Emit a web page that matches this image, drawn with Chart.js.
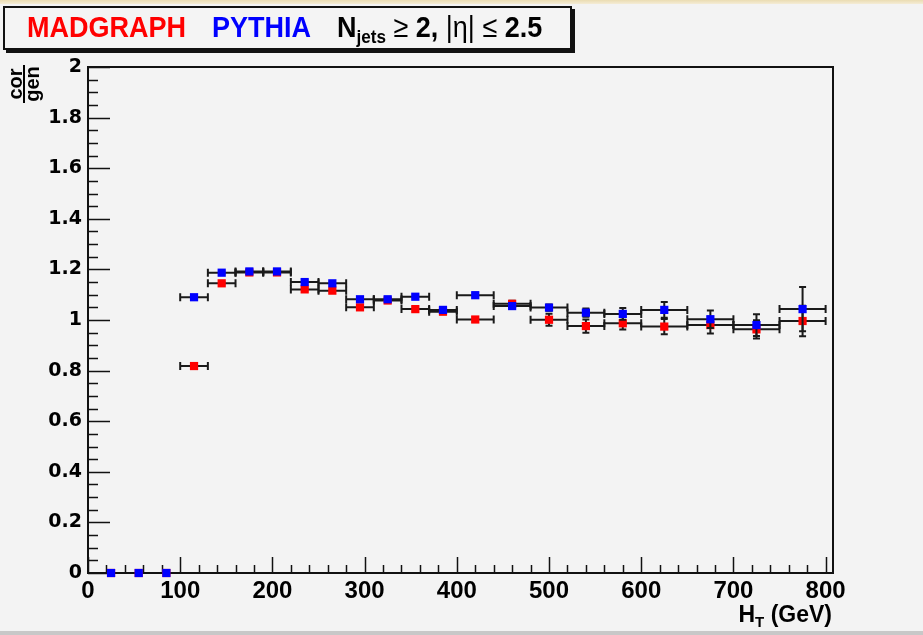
<!DOCTYPE html>
<html><head><meta charset="utf-8">
<script src="https://cdn.jsdelivr.net/npm/chart.js@4.4.1/dist/chart.umd.min.js"></script>
<style>
html,body{margin:0;padding:0;background:#f3f3f3;}
#wrap{position:relative;width:923px;height:635px;overflow:hidden;background:#f3f3f3;}
#c{position:absolute;left:0;top:0;}
#topstrip{position:absolute;left:0;top:0;width:923px;height:4px;background:linear-gradient(#eadcb2,#f4ecd6);}
#botline{position:absolute;left:0;top:631px;width:923px;height:4px;background:#c8c8c8;}
#legend{position:absolute;left:3px;top:6px;width:565px;height:40px;border:2px solid #111;box-shadow:3px 3px 0 #111;background:#f4f4f4;}
.lt{position:absolute;font-family:'Liberation Sans',Arial,sans-serif;font-weight:bold;font-size:30px;line-height:30px;white-space:nowrap;transform:scaleX(0.9);transform-origin:0 0;}
.lt sub{font-size:19px;vertical-align:-6px;line-height:0;}
.lt .op{font-weight:normal;}
#ytitle{position:absolute;left:5px;top:68px;width:38px;height:32px;transform:rotate(-90deg);font-family:'Liberation Sans',Arial,sans-serif;font-weight:bold;font-size:20px;text-align:center;}
#ytitle div{line-height:15px;height:15px;}
#ytitle .num{border-bottom:2px solid #000;}
#xtitle{position:absolute;right:91px;top:603px;font-family:'Liberation Sans',Arial,sans-serif;font-weight:bold;font-size:23px;line-height:23px;white-space:nowrap;}
#xtitle sub{font-size:15px;vertical-align:-5px;line-height:0;}
</style>
</head><body>
<div id="wrap">
<canvas id="c" width="923" height="635"></canvas>
<div id="topstrip"></div>
<div id="botline"></div>
<div id="legend"></div>
<div class="lt" style="left:27px;top:12px;color:#ff0000;">MADGRAPH</div>
<div class="lt" style="left:212px;top:12px;color:#0000ff;">PYTHIA</div>
<div class="lt" style="left:337px;top:12px;color:#000;">N<sub>jets</sub> <span class="op">≥</span> 2, <span class="op">|η|</span> <span class="op">≤</span> 2.5</div>
<div id="ytitle"><div class="num">cor</div><div>gen</div></div>
<div id="xtitle">H<sub>T</sub> (GeV)</div>
</div>
<script>
// ---- data ----
const binLow    = [10, 40, 70, 100, 130, 160, 190, 220, 250, 280, 310, 340, 370, 400, 440, 480, 520, 560, 600, 650, 700, 750];
const binHigh   = [40, 70, 100, 130, 160, 190, 220, 250, 280, 310, 340, 370, 400, 440, 480, 520, 560, 600, 650, 700, 750, 800];
const binCenter = [25, 55, 85, 115, 145, 175, 205, 235, 265, 295, 325, 355, 385, 420, 460, 500, 540, 580, 625, 675, 725, 775];
const madgraph    = [0, 0, 0, 0.818, 1.145, 1.188, 1.188, 1.121, 1.116, 1.050, 1.077, 1.043, 1.033, 1.002, 1.064, 1.001, 0.976, 0.987, 0.974, 0.980, 0.963, 0.996];
const madgraphErr = [0, 0, 0, 0.006, 0.006, 0.006, 0.006, 0.007, 0.007, 0.008, 0.008, 0.009, 0.010, 0.010, 0.012, 0.024, 0.026, 0.025, 0.030, 0.033, 0.036, 0.060];
const pythia      = [0, 0, 0, 1.090, 1.187, 1.192, 1.192, 1.150, 1.145, 1.082, 1.082, 1.092, 1.040, 1.098, 1.055, 1.049, 1.029, 1.024, 1.040, 1.003, 0.980, 1.043];
const pythiaErr   = [0, 0, 0, 0.006, 0.006, 0.006, 0.006, 0.007, 0.007, 0.008, 0.008, 0.009, 0.010, 0.010, 0.012, 0.012, 0.016, 0.023, 0.031, 0.035, 0.043, 0.087];
const xTickValues = [0, 100, 200, 300, 400, 500, 600, 700, 800];
const xTickLabels = ['0', '100', '200', '300', '400', '500', '600', '700', '800'];
const yTickValues = [0, 0.2, 0.4, 0.6, 0.8, 1, 1.2, 1.4, 1.6, 1.8, 2];
const yTickLabels = ['0', '0.2', '0.4', '0.6', '0.8', '1', '1.2', '1.4', '1.6', '1.8', '2'];

const series = [
  {label: 'MADGRAPH', values: madgraph, errs: madgraphErr, color: '#ff0000', order: 1},
  {label: 'PYTHIA', values: pythia, errs: pythiaErr, color: '#0000ff', order: 0}
];

const errorBars = {
  id: 'errorBars',
  beforeDatasetDraw(chart, args) {
    const ds = chart.data.datasets[args.index];
    const xs = chart.scales.x, ys = chart.scales.y;
    const ctx = chart.ctx;
    ctx.save();
    ctx.strokeStyle = '#1a1a1a';
    ctx.lineWidth = 2;
    ds.data.forEach((p, i) => {
      if (p.y === 0) return;
      const px1 = xs.getPixelForValue(ds.lo[i]), px2 = xs.getPixelForValue(ds.hi[i]);
      const py = ys.getPixelForValue(p.y), px = xs.getPixelForValue(p.x);
      const pyA = ys.getPixelForValue(p.y + ds.err[i]), pyB = ys.getPixelForValue(p.y - ds.err[i]);
      ctx.beginPath();
      ctx.moveTo(px1, py); ctx.lineTo(px2, py);
      ctx.moveTo(px1, py - 4); ctx.lineTo(px1, py + 4);
      ctx.moveTo(px2, py - 4); ctx.lineTo(px2, py + 4);
      ctx.moveTo(px, pyA); ctx.lineTo(px, pyB);
      ctx.moveTo(px - 3.5, pyA); ctx.lineTo(px + 3.5, pyA);
      ctx.moveTo(px - 3.5, pyB); ctx.lineTo(px + 3.5, pyB);
      ctx.stroke();
    });
    ctx.restore();
  }
};

const frameTicks = {
  id: 'frameTicks',
  beforeDatasetsDraw(chart) {
    const {ctx, chartArea: a} = chart;
    const xs = chart.scales.x, ys = chart.scales.y;
    ctx.save();
    ctx.strokeStyle = '#111';
    ctx.lineWidth = 1.5;
    ctx.beginPath();
    for (let k = 0; k <= 40; k++) {
      const py = Math.round(ys.getPixelForValue(k * 0.05)) + 0.5;
      const len = (k % 4 === 0) ? 22 : 10;
      ctx.moveTo(a.left, py); ctx.lineTo(a.left + len, py);
    }
    for (let k = 0; k <= 40; k++) {
      const v = k * 20;
      if (v > xs.max) break;
      const px = Math.round(xs.getPixelForValue(v)) + 0.5;
      const len = (k % 5 === 0) ? 16 : 8;
      ctx.moveTo(px, a.bottom); ctx.lineTo(px, a.bottom - len);
    }
    ctx.stroke();
    ctx.lineWidth = 2;
    ctx.strokeRect(a.left, a.top, a.right - a.left, a.bottom - a.top);
    ctx.restore();
  }
};

new Chart(document.getElementById('c'), {
  type: 'scatter',
  data: {
    datasets: series.map(s => ({
      label: s.label,
      data: binCenter.map((x, i) => ({x: x, y: s.values[i]})),
      lo: binLow, hi: binHigh, err: s.errs,
      order: s.order,
      clip: 10,
      pointStyle: 'rect',
      pointRadius: 5.8,
      borderWidth: 0,
      backgroundColor: s.color,
      borderColor: s.color
    }))
  },
  options: {
    responsive: false,
    animation: false,
    devicePixelRatio: 1,
    layout: {padding: {left: 0, top: 67, right: 90, bottom: 0}},
    plugins: {legend: {display: false}, tooltip: {enabled: false}},
    scales: {
      x: {
        type: 'linear', min: 0, max: 808,
        afterBuildTicks: s => { s.ticks = xTickValues.map(v => ({value: v})); },
        afterFit: s => { s.height = 62; },
        grid: {display: false, drawTicks: false},
        border: {display: false},
        ticks: {
          color: '#000', padding: 4, maxRotation: 0, autoSkip: false,
          font: {family: "'Liberation Sans Narrow', 'Liberation Sans', Arial", weight: 'bold', size: 24},
          callback: (v, i) => xTickLabels[i]
        }
      },
      y: {
        type: 'linear', min: 0, max: 2,
        afterBuildTicks: s => { s.ticks = yTickValues.map(v => ({value: v})); },
        afterFit: s => { s.width = 88; },
        grid: {display: false, drawTicks: false},
        border: {display: false},
        ticks: {
          color: '#000', padding: 6, autoSkip: false,
          font: {family: "'DejaVu Sans', Arial", weight: 'bold', size: 19},
          callback: (v, i) => yTickLabels[i]
        }
      }
    }
  },
  plugins: [errorBars, frameTicks]
});
</script>
</body></html>
